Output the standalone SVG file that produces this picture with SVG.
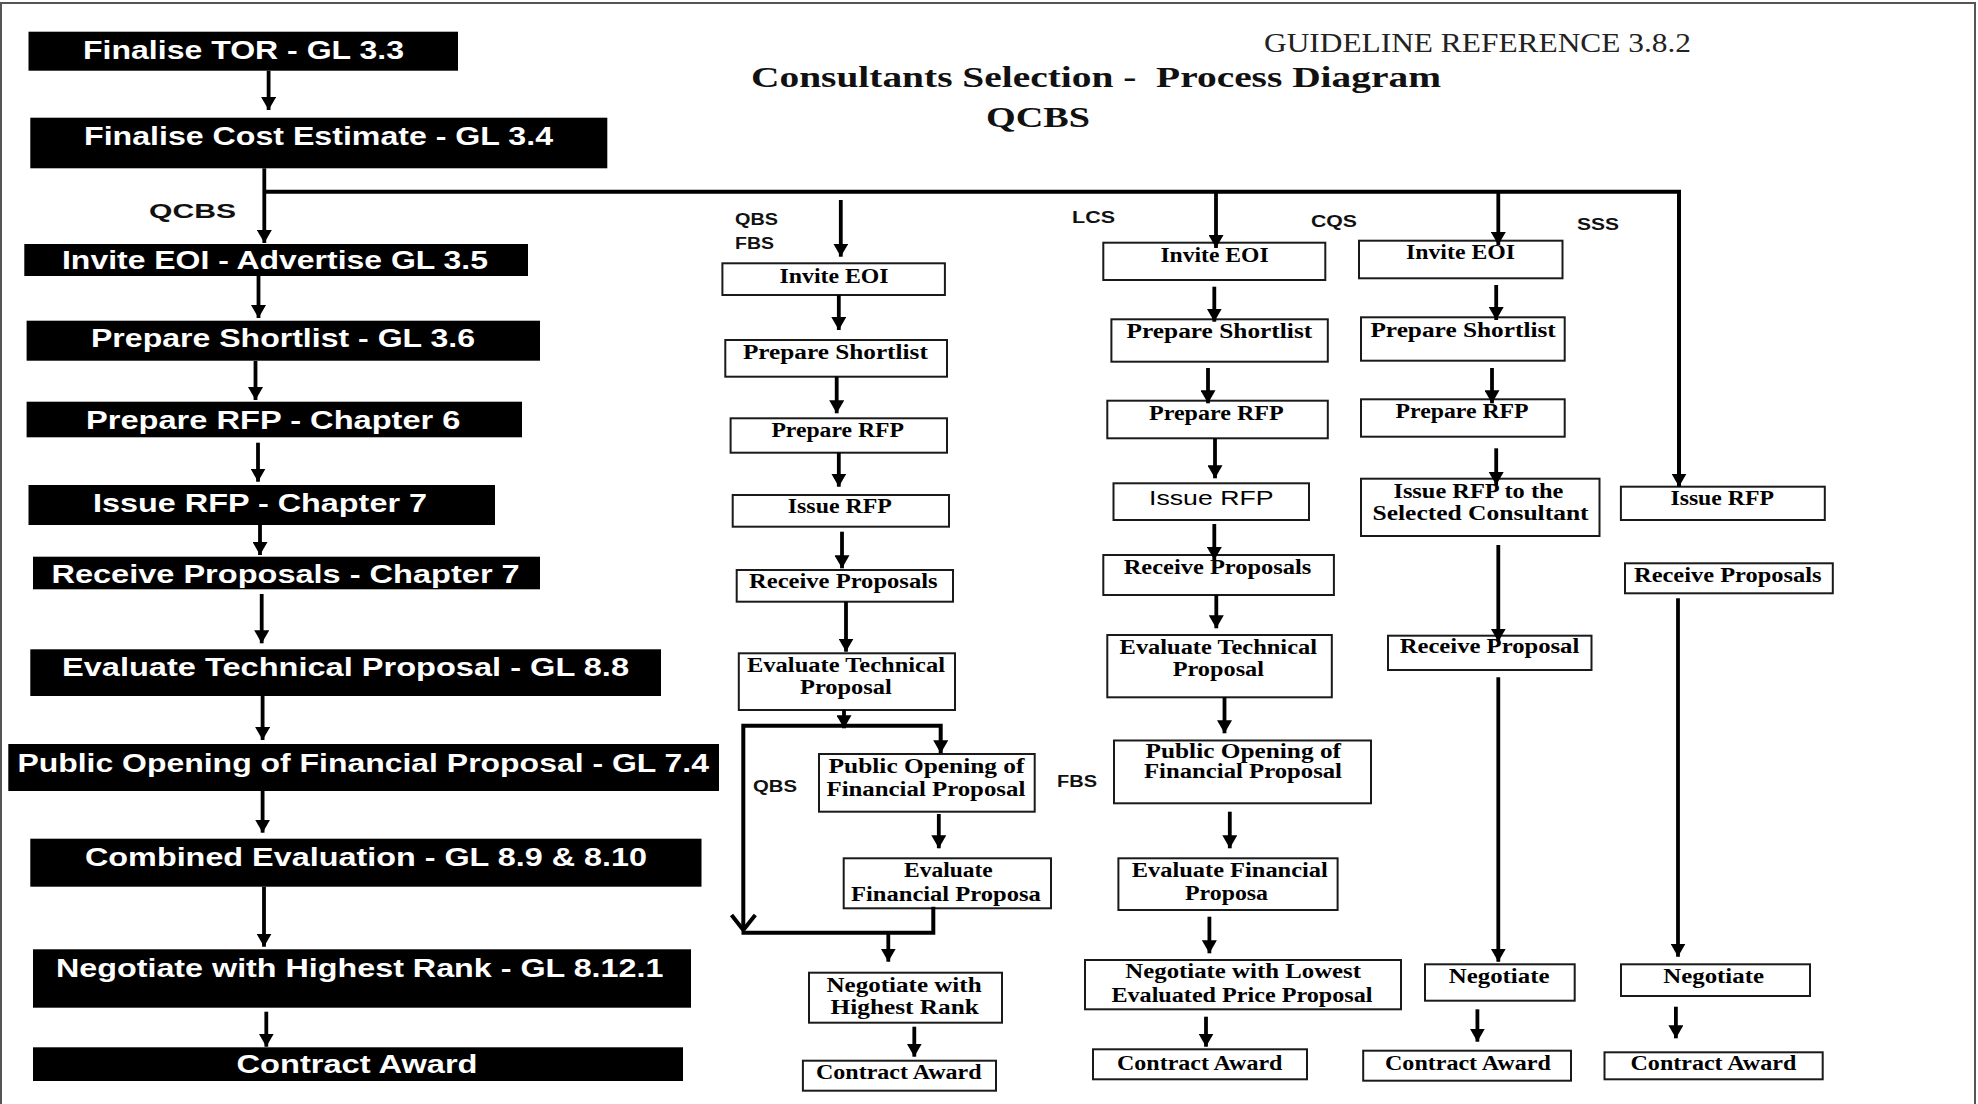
<svg xmlns="http://www.w3.org/2000/svg" width="1978" height="1104" viewBox="0 0 1978 1104">
<style>
.lb{fill:#000}
.lt{font-family:"Liberation Sans",Arial,sans-serif;font-weight:bold;font-size:26.5px;fill:#fff}
.bx{fill:#fff;stroke:#1a1a1a;stroke-width:2}
.st{font-family:"Liberation Serif","Times New Roman",serif;font-weight:bold;font-size:20px;fill:#000}
.ss{font-family:"Liberation Sans",Arial,sans-serif;font-size:21px;fill:#000}
.lab{font-family:"Liberation Sans",Arial,sans-serif;font-weight:bold;font-size:16px;fill:#111}
.cn{stroke:#000;stroke-width:3.8;fill:none}
.bus{stroke:#000;stroke-width:4;fill:none}
</style>
<defs>
<marker id="ah" viewBox="0 0 13 15" refX="13" refY="7.5" markerWidth="13" markerHeight="15" markerUnits="userSpaceOnUse" orient="auto">
<path d="M0,0 L13,7.5 L0,15 z" fill="#000"/>
</marker>
</defs>
<rect x="1" y="3" width="1974" height="1120" fill="none" stroke="#555" stroke-width="2"/>

<g id="titles">
<text x="1264" y="51.7" textLength="427" lengthAdjust="spacingAndGlyphs" style="font-family:'Liberation Serif','Times New Roman',serif;font-size:27px;fill:#222">GUIDELINE REFERENCE 3.8.2</text>
<text x="751" y="86.7" textLength="690" lengthAdjust="spacingAndGlyphs" xml:space="preserve" style="font-family:'Liberation Serif','Times New Roman',serif;font-weight:bold;font-size:30px;fill:#111">Consultants Selection -  Process Diagram</text>
<text x="986" y="126.7" textLength="104" lengthAdjust="spacingAndGlyphs" style="font-family:'Liberation Serif','Times New Roman',serif;font-weight:bold;font-size:29px;fill:#111">QCBS</text>
</g>

<g id="labels">
<text x="149" y="218" textLength="87" lengthAdjust="spacingAndGlyphs" style="font-family:'Liberation Sans',Arial,sans-serif;font-weight:bold;font-size:21px;fill:#111">QCBS</text>
<text class="lab" x="735" y="225" textLength="43" lengthAdjust="spacingAndGlyphs">QBS</text>
<text class="lab" x="735" y="249.3" textLength="39" lengthAdjust="spacingAndGlyphs">FBS</text>
<text class="lab" x="1072" y="223.3" textLength="43" lengthAdjust="spacingAndGlyphs">LCS</text>
<text class="lab" x="1311" y="226.7" textLength="46" lengthAdjust="spacingAndGlyphs">CQS</text>
<text class="lab" x="1577" y="230" textLength="42" lengthAdjust="spacingAndGlyphs">SSS</text>
<text class="lab" x="753" y="791.7" textLength="44" lengthAdjust="spacingAndGlyphs">QBS</text>
<text class="lab" x="1057" y="787.3" textLength="40" lengthAdjust="spacingAndGlyphs">FBS</text>
</g>

<g id="left-column">
<g id="L1"><rect class="lb" x="28.5" y="31.7" width="429.5" height="39"/><text class="lt" x="83" y="59" textLength="321" lengthAdjust="spacingAndGlyphs">Finalise TOR - GL 3.3</text></g>
<g id="L2"><rect class="lb" x="30.3" y="117.7" width="577" height="50.6"/><text class="lt" x="84" y="145" textLength="469" lengthAdjust="spacingAndGlyphs">Finalise Cost Estimate - GL 3.4</text></g>
<g id="L3"><rect class="lb" x="24.3" y="244" width="503.7" height="32"/><text class="lt" x="62" y="269" textLength="426" lengthAdjust="spacingAndGlyphs">Invite EOI - Advertise GL 3.5</text></g>
<g id="L4"><rect class="lb" x="26.6" y="320.7" width="513.4" height="40"/><text class="lt" x="91" y="346.7" textLength="384" lengthAdjust="spacingAndGlyphs">Prepare Shortlist - GL 3.6</text></g>
<g id="L5"><rect class="lb" x="26.6" y="401.7" width="495.4" height="35.6"/><text class="lt" x="86" y="429.3" textLength="374.5" lengthAdjust="spacingAndGlyphs">Prepare RFP - Chapter 6</text></g>
<g id="L6"><rect class="lb" x="28.5" y="485" width="466.5" height="40"/><text class="lt" x="93" y="511.7" textLength="334" lengthAdjust="spacingAndGlyphs">Issue RFP - Chapter 7</text></g>
<g id="L7"><rect class="lb" x="33" y="556.7" width="507" height="32.6"/><text class="lt" x="51.4" y="583.3" textLength="468.3" lengthAdjust="spacingAndGlyphs">Receive Proposals - Chapter 7</text></g>
<g id="L8"><rect class="lb" x="30.3" y="649.3" width="630.7" height="46.7"/><text class="lt" x="62" y="676" textLength="567" lengthAdjust="spacingAndGlyphs">Evaluate Technical Proposal - GL 8.8</text></g>
<g id="L9"><rect class="lb" x="8.3" y="744" width="710.7" height="47"/><text class="lt" x="17.4" y="771.7" textLength="691.6" lengthAdjust="spacingAndGlyphs">Public Opening of Financial Proposal - GL 7.4</text></g>
<g id="L10"><rect class="lb" x="30.3" y="838.7" width="671.2" height="48"/><text class="lt" x="85" y="866" textLength="562" lengthAdjust="spacingAndGlyphs">Combined Evaluation - GL 8.9 &amp; 8.10</text></g>
<g id="L11"><rect class="lb" x="33" y="949.3" width="658" height="58.4"/><text class="lt" x="56" y="976.7" textLength="607.4" lengthAdjust="spacingAndGlyphs">Negotiate with Highest Rank - GL 8.12.1</text></g>
<g id="L12"><rect class="lb" x="33" y="1047.3" width="650" height="33.7"/><text class="lt" x="236.5" y="1073.3" textLength="241" lengthAdjust="spacingAndGlyphs">Contract Award</text></g>
</g>

<g id="qbs-column">
<g id="Q1"><rect class="bx" x="722.4" y="263.3" width="222.5" height="31.7"/><text class="st" x="779.6" y="282.7" textLength="109" lengthAdjust="spacingAndGlyphs">Invite EOI</text></g>
<g id="Q2"><rect class="bx" x="725.3" y="340" width="221.7" height="36.7"/><text class="st" x="742.9" y="359.3" textLength="184.9" lengthAdjust="spacingAndGlyphs">Prepare Shortlist</text></g>
<g id="Q3"><rect class="bx" x="730.6" y="418.3" width="216.4" height="34.4"/><text class="st" x="771.4" y="436.7" textLength="132.6" lengthAdjust="spacingAndGlyphs">Prepare RFP</text></g>
<g id="Q4"><rect class="bx" x="732.7" y="495" width="216.3" height="31.7"/><text class="st" x="787.8" y="513.3" textLength="104" lengthAdjust="spacingAndGlyphs">Issue RFP</text></g>
<g id="Q5"><rect class="bx" x="736.7" y="570" width="216.3" height="31.7"/><text class="st" x="749" y="588.3" textLength="188.6" lengthAdjust="spacingAndGlyphs">Receive Proposals</text></g>
<g id="Q6"><rect class="bx" x="738.8" y="653.3" width="216.2" height="56.7"/><text class="st" x="747" y="671.7" textLength="198" lengthAdjust="spacingAndGlyphs">Evaluate Technical</text><text class="st" x="800" y="694" textLength="91.8" lengthAdjust="spacingAndGlyphs">Proposal</text></g>
<g id="Q7"><rect class="bx" x="819" y="754" width="215.7" height="57.7"/><text class="st" x="828.6" y="773.3" textLength="195.9" lengthAdjust="spacingAndGlyphs">Public Opening of</text><text class="st" x="826.5" y="796" textLength="198.8" lengthAdjust="spacingAndGlyphs">Financial Proposal</text></g>
<g id="Q8"><rect class="bx" x="843.7" y="858.3" width="207.3" height="50"/><text class="st" x="904" y="877.3" textLength="88.7" lengthAdjust="spacingAndGlyphs">Evaluate</text><text class="st" x="851" y="900.7" textLength="189.8" lengthAdjust="spacingAndGlyphs">Financial Proposa</text></g>
<g id="Q9"><rect class="bx" x="809" y="972.7" width="193" height="50"/><text class="st" x="826.5" y="991.7" textLength="155.1" lengthAdjust="spacingAndGlyphs">Negotiate with</text><text class="st" x="830.6" y="1014" textLength="148.2" lengthAdjust="spacingAndGlyphs">Highest Rank</text></g>
<g id="Q10"><rect class="bx" x="802.9" y="1060.7" width="193.1" height="30"/><text class="st" x="816" y="1079.3" textLength="165.6" lengthAdjust="spacingAndGlyphs">Contract Award</text></g>
</g>

<g id="lcs-column">
<g id="C1"><rect class="bx" x="1103.3" y="242.7" width="222" height="37.3"/><text class="st" x="1160.4" y="261.7" textLength="108.2" lengthAdjust="spacingAndGlyphs">Invite EOI</text></g>
<g id="C2"><rect class="bx" x="1111.4" y="319.3" width="216.4" height="42.4"/><text class="st" x="1126.5" y="338.3" textLength="185.7" lengthAdjust="spacingAndGlyphs">Prepare Shortlist</text></g>
<g id="C3"><rect class="bx" x="1107.3" y="400.7" width="220.5" height="37.6"/><text class="st" x="1149" y="420" textLength="134.7" lengthAdjust="spacingAndGlyphs">Prepare RFP</text></g>
<g id="C4"><rect class="bx" x="1113.5" y="483.3" width="195.5" height="36.7"/><text class="ss" x="1149" y="505" textLength="124.5" lengthAdjust="spacingAndGlyphs">Issue RFP</text></g>
<g id="C5"><rect class="bx" x="1103.3" y="555" width="230.6" height="40"/><text class="st" x="1123.7" y="574" textLength="187.7" lengthAdjust="spacingAndGlyphs">Receive Proposals</text></g>
<g id="C6"><rect class="bx" x="1107.3" y="635" width="224.5" height="62.3"/><text class="st" x="1119.6" y="654" textLength="197.4" lengthAdjust="spacingAndGlyphs">Evaluate Technical</text><text class="st" x="1172.7" y="676" textLength="91.3" lengthAdjust="spacingAndGlyphs">Proposal</text></g>
<g id="C7"><rect class="bx" x="1114" y="740.5" width="257" height="62.8"/><text class="st" x="1145.5" y="758.3" textLength="195.5" lengthAdjust="spacingAndGlyphs">Public Opening of</text><text class="st" x="1144" y="778.3" textLength="198" lengthAdjust="spacingAndGlyphs">Financial Proposal</text></g>
<g id="C8"><rect class="bx" x="1118.4" y="858.3" width="219.2" height="51.7"/><text class="st" x="1131.8" y="876.7" textLength="196" lengthAdjust="spacingAndGlyphs">Evaluate Financial</text><text class="st" x="1185" y="900" textLength="83" lengthAdjust="spacingAndGlyphs">Proposa</text></g>
<g id="C9"><rect class="bx" x="1085" y="960" width="316" height="49.3"/><text class="st" x="1125.3" y="978.3" textLength="235.7" lengthAdjust="spacingAndGlyphs">Negotiate with Lowest</text><text class="st" x="1111.4" y="1001.7" textLength="261.1" lengthAdjust="spacingAndGlyphs">Evaluated Price Proposal</text></g>
<g id="C10"><rect class="bx" x="1093" y="1049.3" width="214" height="30"/><text class="st" x="1117" y="1070" textLength="165.4" lengthAdjust="spacingAndGlyphs">Contract Award</text></g>
</g>

<g id="cqs-column">
<g id="K1"><rect class="bx" x="1359" y="240.7" width="203.5" height="37.6"/><text class="st" x="1406" y="259.3" textLength="109" lengthAdjust="spacingAndGlyphs">Invite EOI</text></g>
<g id="K2"><rect class="bx" x="1361" y="317.3" width="203.7" height="43.4"/><text class="st" x="1370.4" y="336.7" textLength="185.4" lengthAdjust="spacingAndGlyphs">Prepare Shortlist</text></g>
<g id="K3"><rect class="bx" x="1361" y="399.3" width="203.7" height="37.4"/><text class="st" x="1395.5" y="418.3" textLength="133.1" lengthAdjust="spacingAndGlyphs">Prepare RFP</text></g>
<g id="K4"><rect class="bx" x="1361" y="478.7" width="238.5" height="57.3"/><text class="st" x="1393.4" y="497.7" textLength="170" lengthAdjust="spacingAndGlyphs">Issue RFP to the</text><text class="st" x="1372.5" y="520" textLength="216.1" lengthAdjust="spacingAndGlyphs">Selected Consultant</text></g>
<g id="K5"><rect class="bx" x="1388" y="635.7" width="203.5" height="34.3"/><text class="st" x="1399.7" y="653.3" textLength="179.6" lengthAdjust="spacingAndGlyphs">Receive Proposal</text></g>
<g id="K6"><rect class="bx" x="1425" y="964.3" width="149.7" height="36.4"/><text class="st" x="1448.8" y="983.3" textLength="100.7" lengthAdjust="spacingAndGlyphs">Negotiate</text></g>
<g id="K7"><rect class="bx" x="1363.2" y="1050.7" width="207.8" height="30"/><text class="st" x="1385" y="1070" textLength="165.8" lengthAdjust="spacingAndGlyphs">Contract Award</text></g>
</g>

<g id="sss-column">
<g id="S1"><rect class="bx" x="1620.9" y="486.7" width="203.9" height="33.3"/><text class="st" x="1670.4" y="505" textLength="103.6" lengthAdjust="spacingAndGlyphs">Issue RFP</text></g>
<g id="S2"><rect class="bx" x="1625" y="563.3" width="207.8" height="30"/><text class="st" x="1634" y="581.7" textLength="187.5" lengthAdjust="spacingAndGlyphs">Receive Proposals</text></g>
<g id="S3"><rect class="bx" x="1621" y="964.3" width="189" height="31.7"/><text class="st" x="1663.3" y="982.7" textLength="100.7" lengthAdjust="spacingAndGlyphs">Negotiate</text></g>
<g id="S4"><rect class="bx" x="1604.5" y="1052.3" width="218.2" height="27"/><text class="st" x="1630.5" y="1070" textLength="165.8" lengthAdjust="spacingAndGlyphs">Contract Award</text></g>
</g>

<g id="connectors">
<line class="cn" x1="268.6" y1="70.7" x2="268.6" y2="110" marker-end="url(#ah)"/>
<line class="cn" x1="264.3" y1="168.3" x2="264.3" y2="243" marker-end="url(#ah)"/>
<line class="cn" x1="258.5" y1="276" x2="258.5" y2="318" marker-end="url(#ah)"/>
<line class="cn" x1="255.5" y1="361" x2="255.5" y2="400" marker-end="url(#ah)"/>
<line class="cn" x1="258" y1="442.7" x2="258" y2="481.7" marker-end="url(#ah)"/>
<line class="cn" x1="260" y1="525" x2="260" y2="555" marker-end="url(#ah)"/>
<line class="cn" x1="261.7" y1="594" x2="261.7" y2="643.3" marker-end="url(#ah)"/>
<line class="cn" x1="262.6" y1="696" x2="262.6" y2="740" marker-end="url(#ah)"/>
<line class="cn" x1="262.6" y1="791" x2="262.6" y2="832.7" marker-end="url(#ah)"/>
<line class="cn" x1="264" y1="886.7" x2="264" y2="946.7" marker-end="url(#ah)"/>
<line class="cn" x1="266.3" y1="1011.7" x2="266.3" y2="1046.7" marker-end="url(#ah)"/>
<path class="bus" d="M266,191.7 H1679 V486.7" marker-end="url(#ah)"/>
<line class="cn" x1="1216" y1="191.7" x2="1216" y2="248" marker-end="url(#ah)"/>
<line class="cn" x1="1498.3" y1="191.7" x2="1498.3" y2="245" marker-end="url(#ah)"/>
<line class="cn" x1="840.8" y1="200" x2="840.8" y2="256.7" marker-end="url(#ah)"/>
<line class="cn" x1="838.8" y1="295" x2="838.8" y2="330" marker-end="url(#ah)"/>
<line class="cn" x1="836.7" y1="376.7" x2="836.7" y2="413.3" marker-end="url(#ah)"/>
<line class="cn" x1="838.8" y1="452.7" x2="838.8" y2="486.7" marker-end="url(#ah)"/>
<line class="cn" x1="842" y1="531.7" x2="842" y2="568.3" marker-end="url(#ah)"/>
<line class="cn" x1="846" y1="601.7" x2="846" y2="651.7" marker-end="url(#ah)"/>
<line class="cn" x1="844" y1="710" x2="844" y2="728.3" marker-end="url(#ah)"/>
<path class="bus" d="M743.3,930 V725.7 H940.7 V753.3" marker-end="url(#ah)"/>
<polyline class="bus" points="731.5,915 743.3,930 755.3,915"/>
<path class="bus" d="M741.5,932.7 H933.3 V906.7"/>
<line class="cn" x1="888.3" y1="932.7" x2="888.3" y2="961.7" marker-end="url(#ah)"/>
<line class="cn" x1="938.8" y1="814" x2="938.8" y2="848.3" marker-end="url(#ah)"/>
<line class="cn" x1="914.3" y1="1026.7" x2="914.3" y2="1056.7" marker-end="url(#ah)"/>
<line class="cn" x1="1214.3" y1="286.7" x2="1214.3" y2="321.7" marker-end="url(#ah)"/>
<line class="cn" x1="1208" y1="368" x2="1208" y2="403.3" marker-end="url(#ah)"/>
<line class="cn" x1="1215" y1="438.3" x2="1215" y2="478.3" marker-end="url(#ah)"/>
<line class="cn" x1="1214.3" y1="524" x2="1214.3" y2="560" marker-end="url(#ah)"/>
<line class="cn" x1="1216.3" y1="595" x2="1216.3" y2="628.3" marker-end="url(#ah)"/>
<line class="cn" x1="1224.5" y1="697.3" x2="1224.5" y2="733.3" marker-end="url(#ah)"/>
<line class="cn" x1="1229.8" y1="811.7" x2="1229.8" y2="848.3" marker-end="url(#ah)"/>
<line class="cn" x1="1209.4" y1="916.7" x2="1209.4" y2="953.3" marker-end="url(#ah)"/>
<line class="cn" x1="1206" y1="1016.7" x2="1206" y2="1046.7" marker-end="url(#ah)"/>
<line class="cn" x1="1496.2" y1="285" x2="1496.2" y2="320" marker-end="url(#ah)"/>
<line class="cn" x1="1492" y1="368" x2="1492" y2="403.3" marker-end="url(#ah)"/>
<line class="cn" x1="1496.2" y1="448.3" x2="1496.2" y2="485" marker-end="url(#ah)"/>
<line class="cn" x1="1498.3" y1="545" x2="1498.3" y2="641.7" marker-end="url(#ah)"/>
<line class="cn" x1="1498.3" y1="677.3" x2="1498.3" y2="961.7" marker-end="url(#ah)"/>
<line class="cn" x1="1477.4" y1="1009.3" x2="1477.4" y2="1041.7" marker-end="url(#ah)"/>
<line class="cn" x1="1678" y1="598.3" x2="1678" y2="956.7" marker-end="url(#ah)"/>
<line class="cn" x1="1675.9" y1="1006.7" x2="1675.9" y2="1038.3" marker-end="url(#ah)"/>
</g>
</svg>
